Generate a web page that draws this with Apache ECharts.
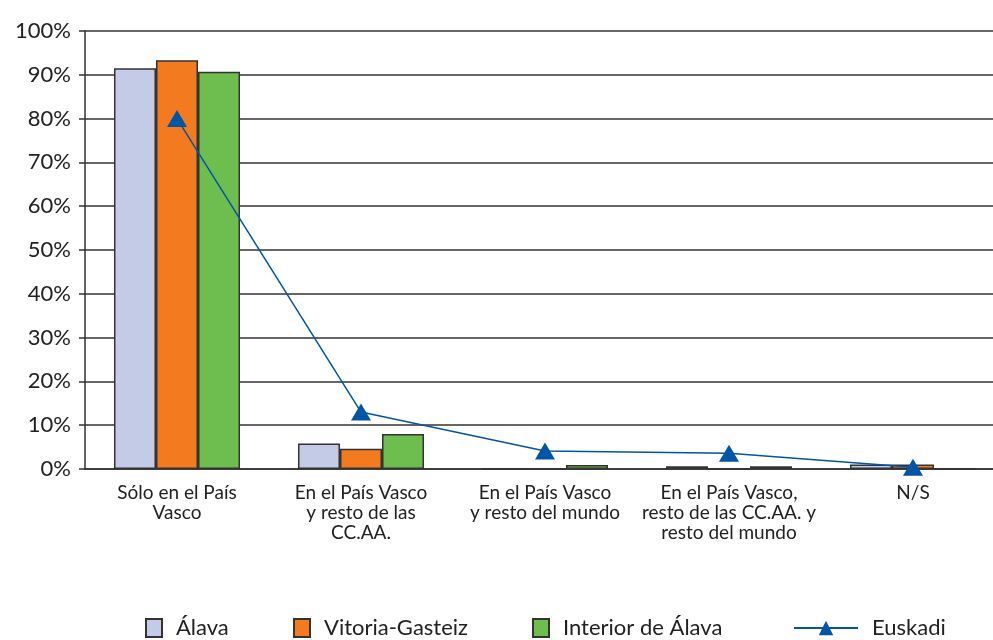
<!DOCTYPE html>
<html>
<head>
<meta charset="utf-8">
<script src="https://cdn.jsdelivr.net/npm/echarts@6/dist/echarts.min.js"></script>
<style>
  html, body { margin: 0; padding: 0; background: #fff; }
  #chart { width: 993px; height: 640px; }
</style>
</head>
<body>
<div id="chart"></div>
<script>
// categorias del eje x
var categorias = [
    'Sólo en el País\nVasco',
    'En el País Vasco\ny resto de las\nCC.AA.',
    'En el País Vasco\ny resto del mundo',
    'En el País Vasco,\nresto de las CC.AA. y\nresto del mundo',
    'N/S'
];
var ticksY = ['0%', '10%', '20%', '30%', '40%', '50%', '60%', '70%', '80%', '90%', '100%'];

// valores en %
var alava = [91.5, 5.8, 0, 0.6, 1.0];
var vitoria = [93.3, 4.6, 0, 0, 1.0];
var interior = [90.7, 8.0, 0.9, 0.6, 0];
var euskadi = [80.0, 13.0, 4.1, 3.6, 0.4];

var chart = echarts.init(document.getElementById('chart'));
var fuente = 'Lato';
var borde = '#333333';

function barra(nombre, datos, color) {
    return {
        name: nombre,
        type: 'bar',
        data: datos,
        barGap: 0,
        barCategoryGap: '31.5%',
        itemStyle: { color: color, borderColor: borde, borderWidth: 1.5 }
    };
}

function leyenda(nombre, left, width, icono) {
    var l = {
        data: [nombre],
        left: left,
        top: 612,
        itemWidth: width,
        itemHeight: 18,
        textStyle: { fontFamily: fuente, fontSize: 22, color: '#222', padding: [0, 0, 0, 9] }
    };
    if (icono) l.icon = icono;
    return l;
}

var option = {
    animation: false,
    grid: { left: 85, top: 31, width: 920, height: 438, outerBoundsMode: 'none', containLabel: false },
    legend: [
        leyenda('Álava', 140, 16, 'rect'),
        leyenda('Vitoria-Gasteiz', 288, 16, 'rect'),
        leyenda('Interior de Álava', 527, 16, 'rect'),
        leyenda('Euskadi', 788, 64)
    ],
    xAxis: {
        type: 'category',
        data: categorias,
        axisLine: { lineStyle: { color: borde, width: 1.5 } },
        axisTick: { show: false },
        axisLabel: {
            fontFamily: fuente, fontSize: 19, color: '#222',
            lineHeight: 20, margin: 14, interval: 0
        }
    },
    yAxis: {
        type: 'value',
        min: 0,
        max: 100,
        interval: 10,
        axisLine: { show: true, lineStyle: { color: borde, width: 1.5 } },
        axisTick: { show: true, length: 6, lineStyle: { color: borde, width: 1.5 } },
        splitLine: { lineStyle: { color: borde, width: 1.5 } },
        axisLabel: {
            fontFamily: fuente, fontSize: 22, color: '#222', margin: 14,
            formatter: function (v) { return ticksY[Math.round(v / 10)]; }
        }
    },
    series: [
        barra('Álava', alava, '#c3cbe6'),
        barra('Vitoria-Gasteiz', vitoria, '#f47a20'),
        barra('Interior de Álava', interior, '#6dbd4f'),
        {
            name: 'Euskadi',
            type: 'line',
            data: euskadi,
            symbol: 'triangle',
            symbolSize: [20, 17],
            itemStyle: { color: '#0055a5' },
            lineStyle: { color: '#0055a5', width: 1.5 },
            z: 5
        }
    ]
};

chart.setOption(option);
</script>
</body>
</html>
